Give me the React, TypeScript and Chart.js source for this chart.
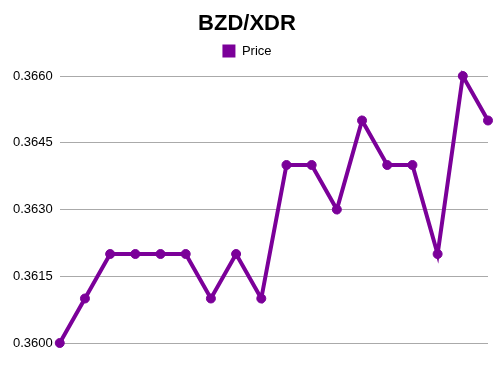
import React, { useEffect, useRef } from "react";
import { Chart, registerables } from "chart.js";

Chart.register(...registerables);

const labels: string[] = ["1","2","3","4","5","6","7","8","9","10","11","12","13","14","15","16","17","18"];
const prices: number[] = [0.3600,0.3610,0.3620,0.3620,0.3620,0.3620,0.3610,0.3620,0.3610,0.3640,0.3640,0.3630,0.3650,0.3640,0.3640,0.3620,0.3660,0.3650];
const seriesName = "Price";
const titleText = "BZD/XDR";

const legendSpacer = {
  id: "legendSpacer",
  beforeInit(chart: any) {
    const orig = chart.legend.fit;
    chart.legend.fit = function () {
      orig.call(this);
      this.height += 8.5;
    };
  },
};

export default function App() {
  const ref = useRef<HTMLCanvasElement | null>(null);
  useEffect(() => {
    document.body.style.margin = "0";
    const ctx = ref.current!;
    const chart = new Chart(ctx, {
      type: "line",
      data: {
        labels,
        datasets: [
          {
            label: seriesName,
            data: prices,
            borderColor: "#7b0099",
            backgroundColor: "#7b0099",
            borderWidth: 4,
            pointRadius: 4.5,
            pointBorderWidth: 1,
            pointBackgroundColor: "#7b0099",
            pointBorderColor: "#7b0099",
            tension: 0,
            clip: false,
          } as any,
        ],
      },
      plugins: [legendSpacer],
      options: {
        animation: false,
        responsive: false,
        maintainAspectRatio: false,
        layout: { padding: { left: 6, right: 12, top: 6, bottom: 32 } },
        plugins: {
          title: {
            display: true,
            text: titleText,
            color: "#000",
            font: { family: "Liberation Sans, Arial, sans-serif", size: 22, weight: "bold" },
            padding: { top: 5, bottom: 5.1 },
          },
          legend: {
            display: true,
            labels: {
              color: "#000",
              boxWidth: 13,
              boxHeight: 13,
              padding: 2,
              font: { family: "Liberation Sans, Arial, sans-serif", size: 13 },
              generateLabels: (chart: any) =>
                Chart.defaults.plugins.legend.labels.generateLabels(chart).map((l: any) => ({
                  ...l,
                  lineWidth: 0,
                })),
            },
          },
          tooltip: { enabled: false },
        },
        scales: {
          x: {
            offset: false,
            grid: { display: false, drawTicks: false },
            border: { display: false },
            ticks: { display: false },
          },
          y: {
            min: 0.36,
            max: 0.366,
            ticks: {
              stepSize: 0.0015,
              color: "#000",
              font: { family: "Liberation Sans, Arial, sans-serif", size: 13 },
              callback: (v: any) => Number(v).toFixed(4),
              padding: 7,
            },
            grid: { color: "#aaaaaa", drawTicks: false, lineWidth: 1 },
            border: { display: false },
          },
        },
      },
    });
    return () => chart.destroy();
  }, []);
  return (
    <div style={{ position: "absolute", left: 0, top: 0, width: 500, height: 375 }}>
      <canvas ref={ref} width={500} height={375} />
    </div>
  );
}
